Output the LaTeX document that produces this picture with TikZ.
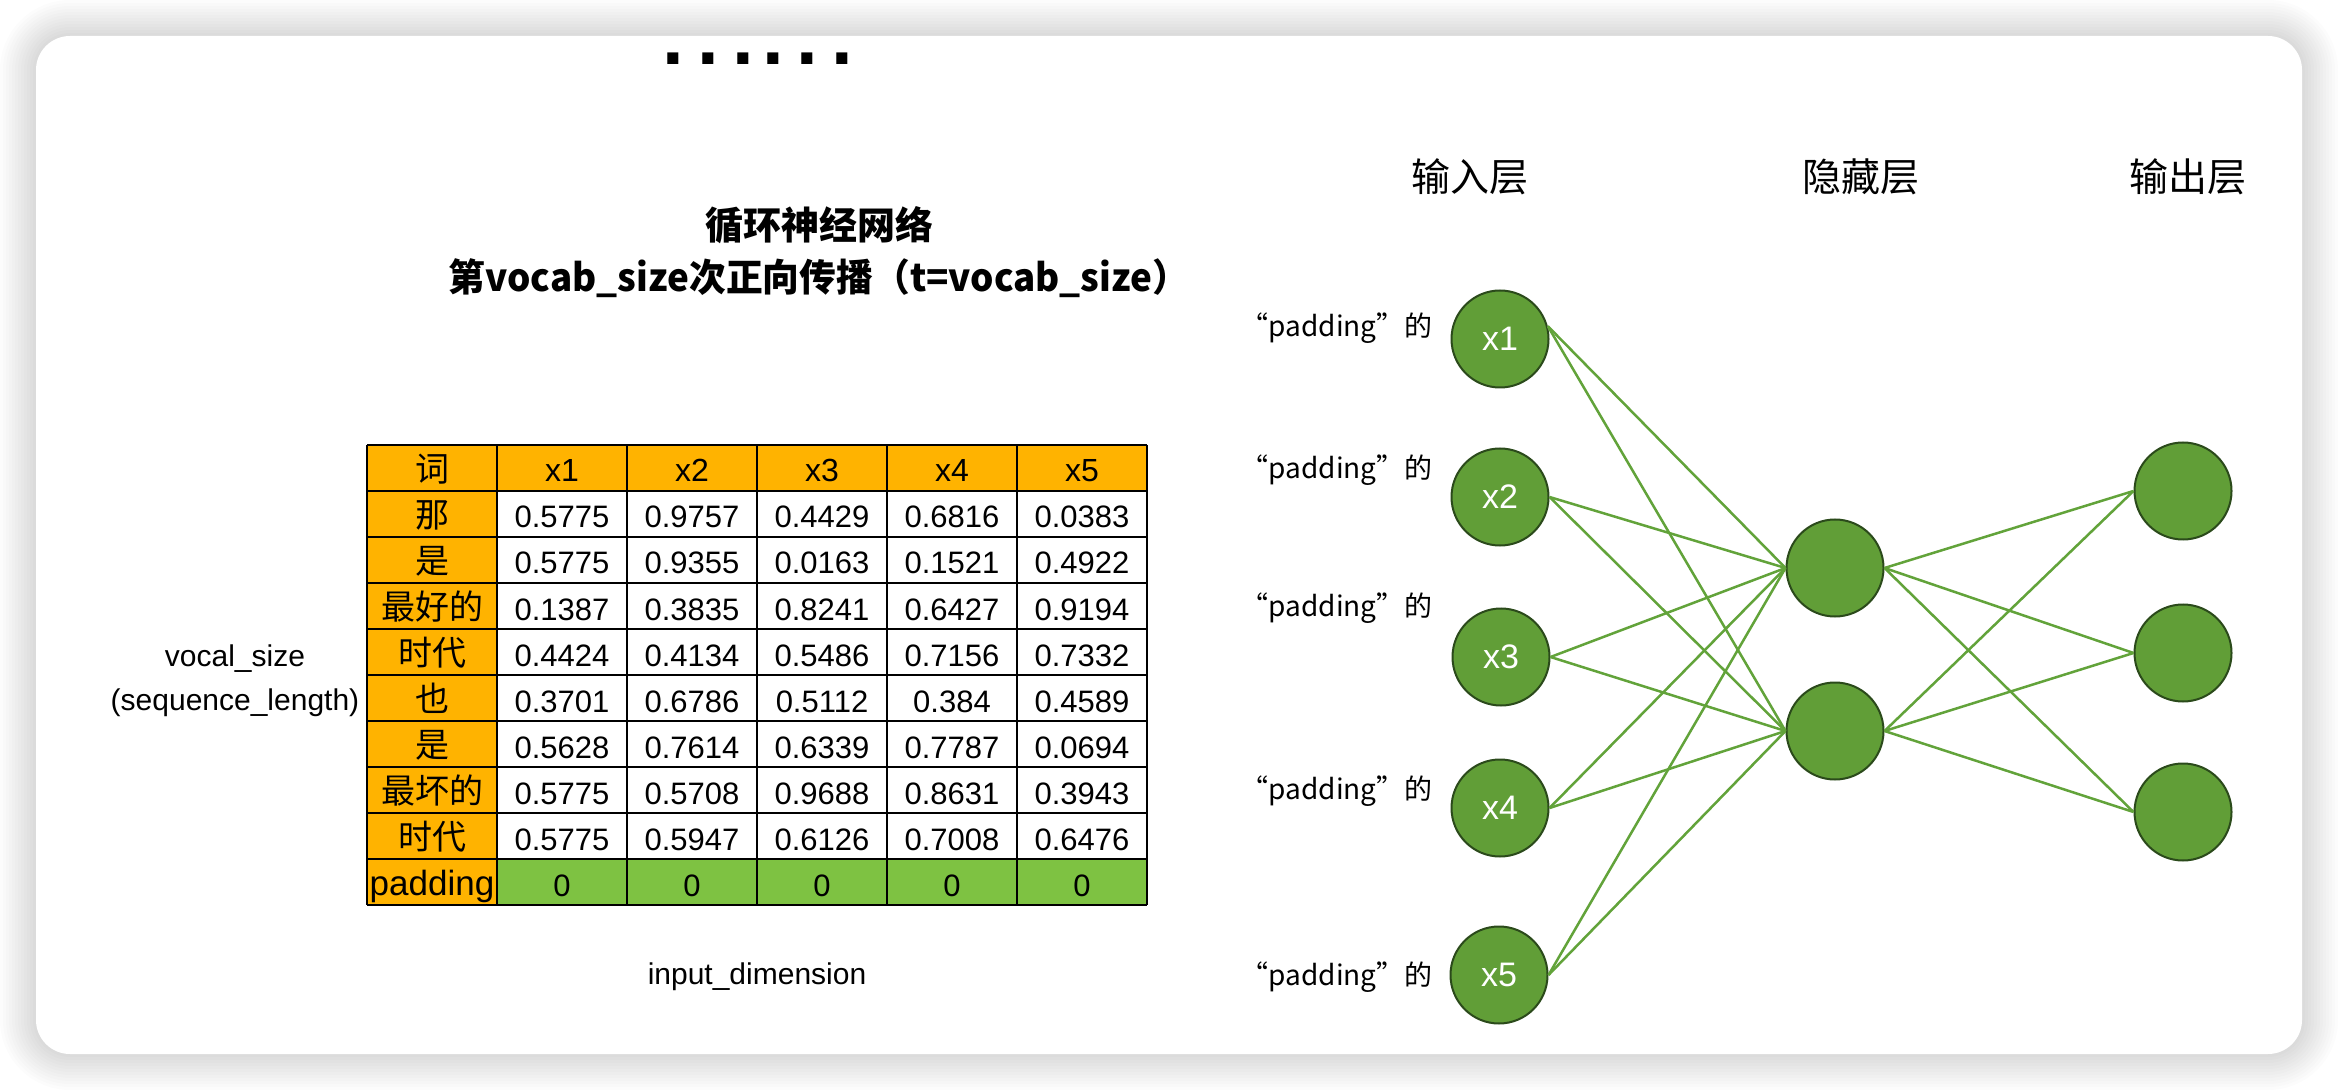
\documentclass[tikz,border=0pt]{standalone}
\usepackage{fontspec}
\setmainfont{Liberation Sans}
\newfontfamily\cjk{Noto Sans CJK SC}
\definecolor{orangecell}{HTML}{FFB300}
\definecolor{greencell}{HTML}{7EC242}
\definecolor{nodegreen}{HTML}{619E37}
\definecolor{nodeedge}{HTML}{2B4A1B}
\definecolor{linkgreen}{HTML}{62A33A}
\begin{document}
\begin{tikzpicture}[x=0.5pt,y=-0.5pt,
  grid/.style={black,line width=1.1pt},
  wordcell/.style={anchor=base,inner sep=0pt,font=\cjk\fontsize{17pt}{20pt}\selectfont},
  numcell/.style={anchor=base,inner sep=0pt,font=\fontsize{15.5pt}{18pt}\selectfont},
  hdcell/.style={anchor=base,inner sep=0pt,font=\fontsize{16pt}{19pt}\selectfont},
  neuron/.style={circle,minimum size=48.5pt,inner sep=0pt,fill=nodegreen,draw=nodeedge,line width=1pt,text=white,font=\fontsize{17pt}{20pt}\selectfont},
  link/.style={linkgreen,line width=1.25pt},
  layerlabel/.style={font=\cjk\fontsize{19.5pt}{22pt}\selectfont},
  padlabel/.style={anchor=east,inner sep=0pt,font=\cjk\fontsize{14pt}{17pt}\selectfont},
  plainlabel/.style={font=\fontsize{15pt}{22pt}\selectfont,align=center,inner sep=0pt}]
\useasboundingbox (0,0) rectangle (2338,1090);
\fill[white] (0,0) rectangle (2338,1090);
% shadow
\foreach \i in {1,...,12}{
  \fill[black,opacity=0.013,rounded corners={17pt+1.5pt*\i}] (36-3*\i,36-3*\i) rectangle (2302+3*\i,1054+3*\i);
}
% card
\fill[white,rounded corners=17pt] (36,36) rectangle (2302,1054);

% dots
\node[inner sep=0pt,font=\fontsize{39pt}{39pt}\selectfont\bfseries] (dots) at (758,59) {.\kern6.6pt.\kern6.6pt.\kern4.1pt.\kern6.6pt.\kern6.6pt.};

% title
\node[font=\cjk\bfseries\fontsize{19pt}{23pt}\selectfont] (t1) at (819,225) {循环神经网络};
\node[font=\cjk\bfseries\fontsize{19pt}{23pt}\selectfont] (t2) at (819,278) {\scalebox{0.968}[1]{第vocab\_size次正向传播（t=vocab\_size）}};

% table backgrounds
\fill[orangecell] (367,445) rectangle (1147,491);
\fill[orangecell] (367,491) rectangle (497,905);
\fill[greencell] (497,859) rectangle (1147,905);
\foreach \j in {0,...,6} \draw[grid] (367+130*\j,445) -- (367+130*\j,905);
\foreach \i in {0,...,10} \draw[grid] (367,445+46*\i) -- (1147,445+46*\i);

% header
\node[wordcell] (w0) at (432,445+36) {词};
\foreach \k in {1,...,5} \node[hdcell] (hd\k) at (432+130*\k,445+37) {x\k};

% rows
\foreach \w/\a/\b/\c/\d/\e [count=\r] in {
  那/0.5775/0.9757/0.4429/0.6816/0.0383,
  是/0.5775/0.9355/0.0163/0.1521/0.4922,
  最好的/0.1387/0.3835/0.8241/0.6427/0.9194,
  时代/0.4424/0.4134/0.5486/0.7156/0.7332,
  也/0.3701/0.6786/0.5112/0.384/0.4589,
  是/0.5628/0.7614/0.6339/0.7787/0.0694,
  最坏的/0.5775/0.5708/0.9688/0.8631/0.3943,
  时代/0.5775/0.5947/0.6126/0.7008/0.6476}{
  \node[wordcell] (w\r) at (432,445+46*\r+36) {\w};
  \node[numcell] (c\r-1) at (562,445+46*\r+37) {\a};
  \node[numcell] (c\r-2) at (692,445+46*\r+37) {\b};
  \node[numcell] (c\r-3) at (822,445+46*\r+37) {\c};
  \node[numcell] (c\r-4) at (952,445+46*\r+37) {\d};
  \node[numcell] (c\r-5) at (1082,445+46*\r+37) {\e};
}
\node[anchor=base,inner sep=0pt,font=\fontsize{17.5pt}{20pt}\selectfont] (w9) at (432,859+36) {padding};
\foreach \k in {1,...,5} \node[numcell] (c9-\k) at (432+130*\k,859+37) {0};

% side labels
\node[plainlabel] (vlabel) at (235,681) {vocal\_size\\(sequence\_length)};
\node[plainlabel] (ilabel) at (757,977) {input\_dimension};

% layer labels
\node[layerlabel] (L1) at (1470,177) {输入层};
\node[layerlabel] (L2) at (1861,177) {隐藏层};
\node[layerlabel] (L3) at (2188,177) {输出层};

% neurons
\node[neuron] (x1) at (1500,339) {x1};
\node[neuron] (x2) at (1500,497) {x2};
\node[neuron] (x3) at (1501,657) {x3};
\node[neuron] (x4) at (1500,808) {x4};
\node[neuron] (x5) at (1499,975) {x5};
\node[neuron] (hid1) at (1835,568) {};
\node[neuron] (hid2) at (1835,731) {};
\node[neuron] (o1) at (2183,491) {};
\node[neuron] (o2) at (2183,653) {};
\node[neuron] (o3) at (2183,812) {};

% padding labels
\node[padlabel] (p1) at (1433,328) {“padding”的};
\node[padlabel] (p2) at (1433,470) {“padding”的};
\node[padlabel] (p3) at (1433,608) {“padding”的};
\node[padlabel] (p4) at (1433,791) {“padding”的};
\node[padlabel] (p5) at (1433,977) {“padding”的};

% links
\foreach \h in {hid1,hid2}{
  \draw[link] (x1.15) -- (\h.west);
  \foreach \n in {x2,x3,x4,x5} \draw[link] (\n.east) -- (\h.west);
  \foreach \o in {o1,o2,o3} \draw[link] (\h.east) -- (\o.west);
}
\end{tikzpicture}
\end{document}
